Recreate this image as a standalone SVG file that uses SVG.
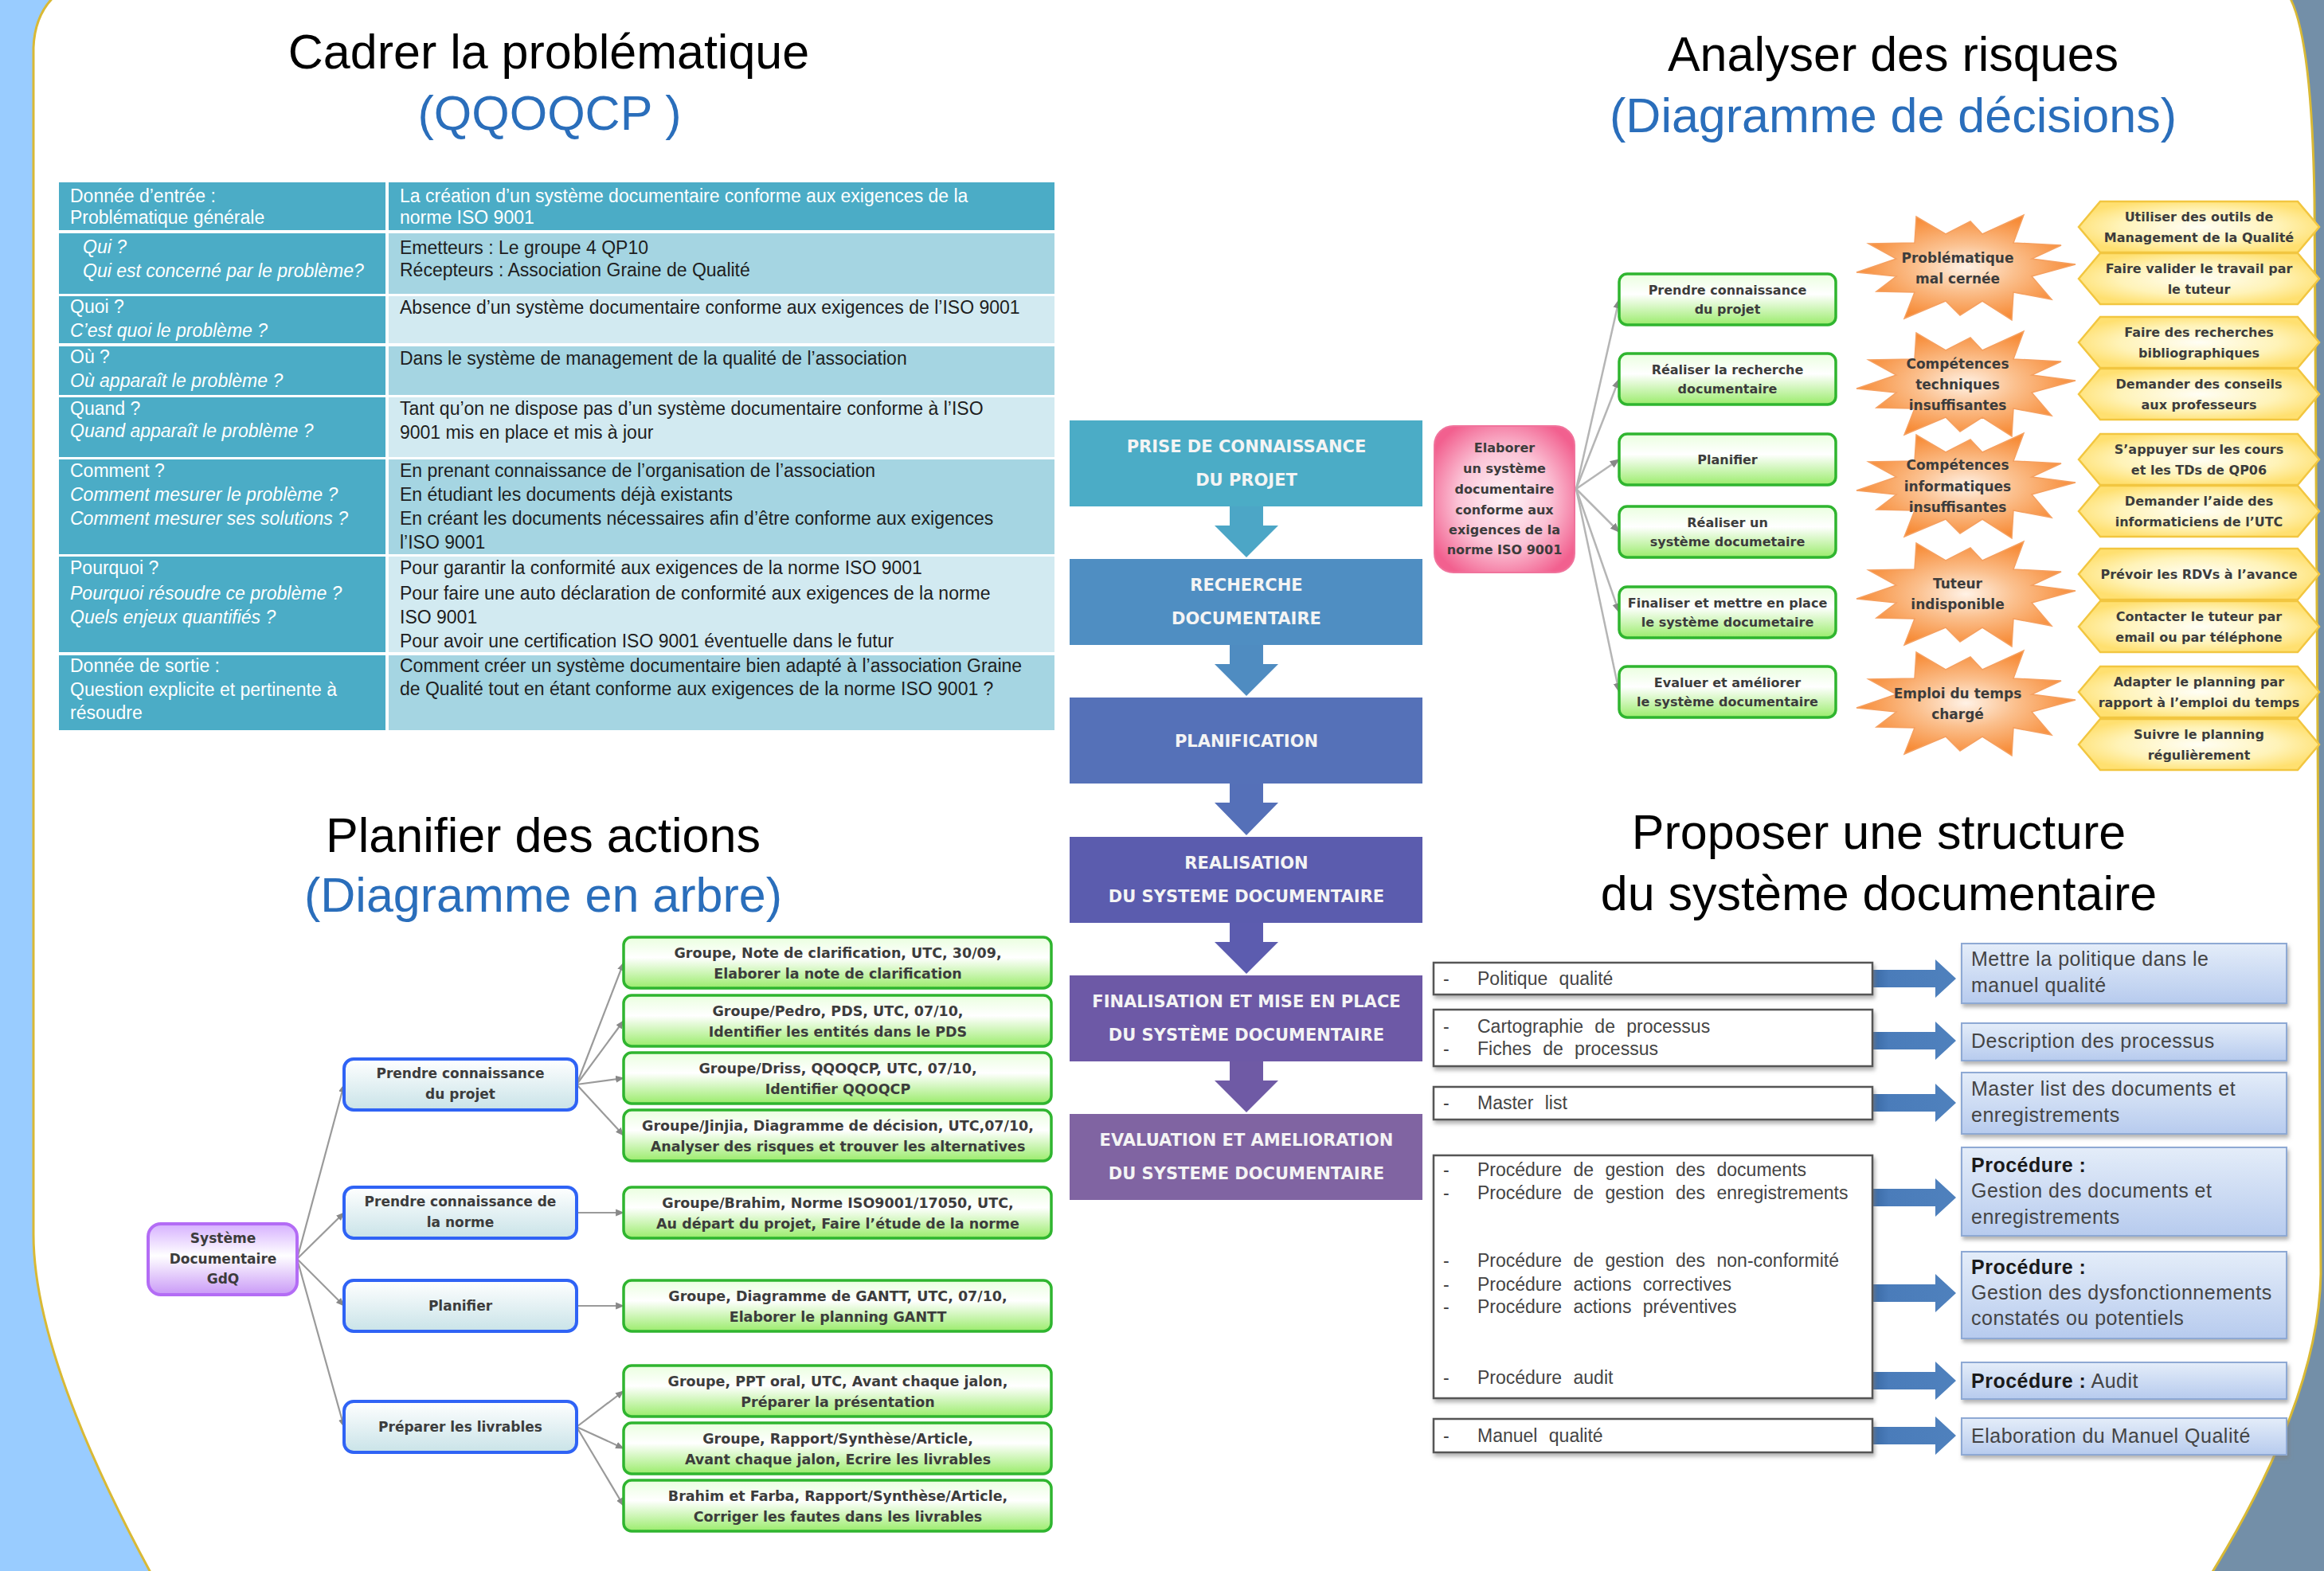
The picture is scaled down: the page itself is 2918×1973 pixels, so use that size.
<svg xmlns="http://www.w3.org/2000/svg" xmlns:xlink="http://www.w3.org/1999/xlink" width="2918" height="1973" viewBox="0 0 2918 1973">
<defs>
<style>
.title{font-family:"Liberation Sans",Arial,sans-serif;font-size:61px;fill:#000;text-anchor:middle}
.sub{font-family:"Liberation Sans",Arial,sans-serif;font-size:61px;fill:#2a6ebb;text-anchor:middle}
.tl{font-family:"Liberation Sans",Arial,sans-serif;font-size:23px;fill:#ffffff}
.tli{font-family:"Liberation Sans",Arial,sans-serif;font-size:23px;fill:#ffffff;font-style:italic}
.tr{font-family:"Liberation Sans",Arial,sans-serif;font-size:23px;fill:#1e1e1e}
.flow{font-family:"DejaVu Sans",sans-serif;font-size:21px;font-weight:bold;fill:#f4f4f4;text-anchor:middle}
.mm{font-family:"DejaVu Sans",sans-serif;font-size:16px;font-weight:bold;fill:#3c3c3c;text-anchor:middle}
.ms{font-family:"DejaVu Sans",sans-serif;font-size:17px;font-weight:bold;fill:#3c3c3c;text-anchor:middle}
.mmb{font-family:"DejaVu Sans",sans-serif;font-size:17.5px;font-weight:bold;fill:#3c3c3c;text-anchor:middle}
.sl{font-family:"Liberation Sans",Arial,sans-serif;font-size:23px;fill:#444;word-spacing:8px}
.sr{font-family:"Liberation Sans",Arial,sans-serif;font-size:25px;fill:#444;letter-spacing:0.5px}
.srb{font-weight:bold;fill:#1a1a1a}
.gbox{fill:url(#gGreen);stroke:#2fb52f;stroke-width:3.5}
.bbox{fill:url(#gBlue);stroke:#2f63f5;stroke-width:4}
.star{fill:url(#gStar);stroke:#f5a060;stroke-width:1.5}
.hex{fill:url(#gHex);stroke:#f2c640;stroke-width:2.5}
.lbox{fill:#fff;stroke:#555;stroke-width:2.5}
.rbox{fill:url(#gStruct);stroke:#8ea9d4;stroke-width:2}
.line{fill:none;stroke:#9a9a9a;stroke-width:2.2;marker-end:url(#tip)}
.line2{fill:none;stroke:#b5b5b5;stroke-width:2.5;marker-end:url(#tip)}
.barrow{fill:url(#gArrow)}
</style>
<linearGradient id="gGreen" x1="0" y1="0" x2="0" y2="1">
<stop offset="0" stop-color="#eaffdf"/><stop offset="0.4" stop-color="#ffffff"/><stop offset="1" stop-color="#9bec6c"/>
</linearGradient>
<linearGradient id="gBlue" x1="0" y1="0" x2="0" y2="1">
<stop offset="0" stop-color="#ffffff"/><stop offset="1" stop-color="#c9e3e8"/>
</linearGradient>
<linearGradient id="gPurple" x1="0" y1="0" x2="0" y2="1">
<stop offset="0" stop-color="#d6b0ff"/><stop offset="0.45" stop-color="#ffffff"/><stop offset="1" stop-color="#c999f7"/>
</linearGradient>
<radialGradient id="gPink" cx="0.5" cy="0.5" r="0.6">
<stop offset="0" stop-color="#fff6f9"/><stop offset="0.55" stop-color="#fbc3d6"/><stop offset="1" stop-color="#f2608f"/>
</radialGradient>
<radialGradient id="gStar" cx="0.5" cy="0.5" r="0.5">
<stop offset="0" stop-color="#fff2e6"/><stop offset="0.45" stop-color="#fbc08e"/><stop offset="1" stop-color="#f78c38"/>
</radialGradient>
<radialGradient id="gHex" cx="0.5" cy="0.5" r="0.55">
<stop offset="0" stop-color="#fffef5"/><stop offset="0.6" stop-color="#fff3b8"/><stop offset="1" stop-color="#ffe070"/>
</radialGradient>
<linearGradient id="gStruct" x1="0" y1="0" x2="0" y2="1">
<stop offset="0" stop-color="#e4edf9"/><stop offset="1" stop-color="#b7cbee"/>
</linearGradient>
<linearGradient id="gArrow" x1="0" y1="0" x2="1" y2="0">
<stop offset="0" stop-color="#2c5a94"/><stop offset="0.3" stop-color="#4a7cba"/><stop offset="1" stop-color="#4f81bd"/>
</linearGradient>
<filter id="shadow" x="-5%" y="-10%" width="110%" height="140%">
<feDropShadow dx="2" dy="4" stdDeviation="2.5" flood-color="#808080" flood-opacity="0.6"/>
</filter>
<marker id="tip" viewBox="0 0 10 10" refX="9" refY="5" markerWidth="5" markerHeight="5" orient="auto">
<path d="M0,1 L10,5 L0,9 Z" fill="#888"/>
</marker>
<path id="star" d="M140,-4 L85,11 L110,40 L62,31 L60,66 L23,42 L-5,60 L-23,42 L-75,64 L-62,31 L-110,30 L-85,11 L-135,6 L-85,-11 L-120,-30 L-62,-31 L-60,-64 L-23,-42 L8,-58 L23,-42 L75,-66 L62,-31 L122,-28 L85,-11 Z"/>
<path id="hex" d="M-151,0 L-124,-32 L124,-32 L151,0 L124,32 L-124,32 Z"/>
</defs>

<!-- background -->
<g id="background">
<rect x="0" y="0" width="1459" height="1973" fill="#99ccff"/>
<rect x="1459" y="0" width="1459" height="1973" fill="#738fa8"/>
<path d="M90,-20 L2860,-20 Q2902,0 2906,250 L2914,1600 C2912,1720 2850,1860 2765,1995 L200,1995 C120,1850 42,1680 42,1550 L42,60 Q44,4 90,-20 Z" fill="#ffffff" stroke="#d9b935" stroke-width="3"/>
</g>

<!-- titles -->
<g id="titles">
<text class="title" x="689" y="86">Cadrer la problématique</text>
<text class="sub" x="690" y="163">(QQOQCP )</text>
<text class="title" x="2377" y="89">Analyser des risques</text>
<text class="sub" x="2377" y="166">(Diagramme de décisions)</text>
<text class="title" x="682" y="1070">Planifier des actions</text>
<text class="sub" x="682" y="1145">(Diagramme en arbre)</text>
<text class="title" x="2359" y="1066">Proposer une structure</text>
<text class="title" x="2359" y="1143">du système documentaire</text>
</g>

<!-- QQOQCP table -->
<g id="table">
<rect x="74" y="229" width="410" height="60" fill="#4bacc6"/>
<rect x="488" y="229" width="836" height="60" fill="#4bacc6"/>
<rect x="74" y="293" width="410" height="76" fill="#4bacc6"/>
<rect x="488" y="293" width="836" height="76" fill="#a5d5e2"/>
<rect x="74" y="372" width="410" height="59" fill="#4bacc6"/>
<rect x="488" y="372" width="836" height="59" fill="#d2eaf1"/>
<rect x="74" y="435" width="410" height="61" fill="#4bacc6"/>
<rect x="488" y="435" width="836" height="61" fill="#a5d5e2"/>
<rect x="74" y="499" width="410" height="75" fill="#4bacc6"/>
<rect x="488" y="499" width="836" height="75" fill="#d2eaf1"/>
<rect x="74" y="577" width="410" height="119" fill="#4bacc6"/>
<rect x="488" y="577" width="836" height="119" fill="#a5d5e2"/>
<rect x="74" y="699" width="410" height="120" fill="#4bacc6"/>
<rect x="488" y="699" width="836" height="120" fill="#d2eaf1"/>
<rect x="74" y="823" width="410" height="94" fill="#4bacc6"/>
<rect x="488" y="823" width="836" height="94" fill="#a5d5e2"/>

<text class="tl" x="88" y="254">Donnée d’entrée :</text>
<text class="tl" x="88" y="281">Problématique générale</text>
<text class="tl" x="502" y="254">La création d’un système documentaire conforme aux exigences de la</text>
<text class="tl" x="502" y="281">norme ISO 9001</text>

<text class="tli" x="104" y="318">Qui ?</text>
<text class="tli" x="104" y="348">Qui est concerné par le problème?</text>
<text class="tr" x="502" y="319">Emetteurs : Le groupe 4 QP10</text>
<text class="tr" x="502" y="347">Récepteurs : Association Graine de Qualité</text>

<text class="tl" x="88" y="393">Quoi ?</text>
<text class="tli" x="88" y="423">C’est quoi le problème ?</text>
<text class="tr" x="502" y="394">Absence d’un système documentaire conforme aux exigences de l’ISO 9001</text>

<text class="tl" x="88" y="456">Où ?</text>
<text class="tli" x="88" y="486">Où apparaît le problème  ?</text>
<text class="tr" x="502" y="458">Dans le système de management de la qualité de l’association</text>

<text class="tl" x="88" y="521">Quand ?</text>
<text class="tli" x="88" y="549">Quand apparaît le problème  ?</text>
<text class="tr" x="502" y="521">Tant qu’on ne dispose pas d’un système documentaire conforme à l’ISO</text>
<text class="tr" x="502" y="551">9001 mis en place et mis à jour</text>

<text class="tl" x="88" y="599">Comment ?</text>
<text class="tli" x="88" y="629">Comment mesurer  le problème ?</text>
<text class="tli" x="88" y="659">Comment  mesurer  ses solutions ?</text>
<text class="tr" x="502" y="599">En prenant connaissance de l’organisation de l’association</text>
<text class="tr" x="502" y="629">En étudiant les documents déjà existants</text>
<text class="tr" x="502" y="659">En créant les documents nécessaires afin d’être conforme  aux exigences</text>
<text class="tr" x="502" y="689">l’ISO 9001</text>

<text class="tl" x="88" y="721">Pourquoi ?</text>
<text class="tli" x="88" y="753">Pourquoi résoudre ce problème  ?</text>
<text class="tli" x="88" y="783">Quels enjeux quantifiés ?</text>
<text class="tr" x="502" y="721">Pour garantir la conformité aux exigences de la norme ISO 9001</text>
<text class="tr" x="502" y="753">Pour faire une auto déclaration de conformité aux exigences de la norme</text>
<text class="tr" x="502" y="783">ISO 9001</text>
<text class="tr" x="502" y="813">Pour avoir une certification  ISO 9001  éventuelle dans le futur</text>

<text class="tl" x="88" y="844">Donnée de sortie :</text>
<text class="tl" x="88" y="874">Question explicite et pertinente à</text>
<text class="tl" x="88" y="903">résoudre</text>
<text class="tr" x="502" y="844">Comment créer un système documentaire bien adapté à l’association Graine</text>
<text class="tr" x="502" y="873">de Qualité tout en étant conforme aux exigences de la norme ISO 9001 ?</text>
</g>

<!-- connectors -->
<g id="connectors">
<path d="M1544,636 L1586,636 L1586,660 L1605,660 L1565,700 L1525,660 L1544,660 Z" fill="#4ca6c6"/>
<path d="M1544,810 L1586,810 L1586,834 L1605,834 L1565,874 L1525,834 L1544,834 Z" fill="#4f8cc1"/>
<path d="M1544,984 L1586,984 L1586,1008 L1605,1008 L1565,1049 L1525,1008 L1544,1008 Z" fill="#5570b8"/>
<path d="M1544,1159 L1586,1159 L1586,1183 L1605,1183 L1565,1223 L1525,1183 L1544,1183 Z" fill="#5c5caf"/>
<path d="M1544,1333 L1586,1333 L1586,1357 L1605,1357 L1565,1397 L1525,1357 L1544,1357 Z" fill="#6f5aa5"/>
<path class="line2" d="M1979,614 L2033,376"/>
<path class="line2" d="M1979,614 L2033,476"/>
<path class="line2" d="M1979,614 L2033,577"/>
<path class="line2" d="M1979,614 L2033,668"/>
<path class="line2" d="M1979,614 L2033,769"/>
<path class="line2" d="M1979,614 L2033,869"/>
<path class="line" d="M373,1581 L432,1362"/>
<path class="line" d="M373,1581 L432,1523"/>
<path class="line" d="M373,1581 L432,1640"/>
<path class="line" d="M373,1581 L432,1792"/>
<path class="line" d="M724,1362 L783,1209"/>
<path class="line" d="M724,1362 L783,1282"/>
<path class="line" d="M724,1362 L783,1354"/>
<path class="line" d="M724,1362 L783,1426"/>
<path class="line" d="M724,1523 L783,1523"/>
<path class="line" d="M724,1640 L783,1640"/>
<path class="line" d="M724,1792 L783,1747"/>
<path class="line" d="M724,1792 L783,1819"/>
<path class="line" d="M724,1792 L783,1891"/>
<path class="barrow" d="M2335,1218 L2430,1218 L2430,1205 L2456,1229 L2430,1253 L2430,1240 L2335,1240 Z"/>
<path class="barrow" d="M2335,1296 L2430,1296 L2430,1283 L2456,1307 L2430,1331 L2430,1318 L2335,1318 Z"/>
<path class="barrow" d="M2335,1374 L2430,1374 L2430,1361 L2456,1385 L2430,1409 L2430,1396 L2335,1396 Z"/>
<path class="barrow" d="M2335,1493 L2430,1493 L2430,1480 L2456,1504 L2430,1528 L2430,1515 L2335,1515 Z"/>
<path class="barrow" d="M2335,1613 L2430,1613 L2430,1600 L2456,1624 L2430,1648 L2430,1635 L2335,1635 Z"/>
<path class="barrow" d="M2335,1723 L2430,1723 L2430,1710 L2456,1734 L2430,1758 L2430,1745 L2335,1745 Z"/>
<path class="barrow" d="M2335,1792 L2430,1792 L2430,1779 L2456,1803 L2430,1827 L2430,1814 L2335,1814 Z"/>
</g>

<!-- central flow -->
<g id="flow-1"><rect x="1343" y="528" width="443" height="108" fill="#4bacc6"/>
<text class="flow" x="1565" y="568">PRISE DE CONNAISSANCE</text><text class="flow" x="1565" y="610">DU PROJET</text></g>
<g id="flow-2"><rect x="1343" y="702" width="443" height="108" fill="#4f8ec2"/>
<text class="flow" x="1565" y="742">RECHERCHE</text><text class="flow" x="1565" y="784">DOCUMENTAIRE</text></g>
<g id="flow-3"><rect x="1343" y="876" width="443" height="108" fill="#5571b8"/>
<text class="flow" x="1565" y="938">PLANIFICATION</text></g>
<g id="flow-4"><rect x="1343" y="1051" width="443" height="108" fill="#5b5cae"/>
<text class="flow" x="1565" y="1091">REALISATION</text><text class="flow" x="1565" y="1133">DU SYSTEME DOCUMENTAIRE</text></g>
<g id="flow-5"><rect x="1343" y="1225" width="443" height="108" fill="#6d59a6"/>
<text class="flow" x="1565" y="1265">FINALISATION ET MISE EN PLACE</text><text class="flow" x="1565" y="1307">DU SYSTÈME DOCUMENTAIRE</text></g>
<g id="flow-6"><rect x="1343" y="1399" width="443" height="108" fill="#8064a2"/>
<text class="flow" x="1565" y="1439">EVALUATION ET AMELIORATION</text><text class="flow" x="1565" y="1481">DU SYSTEME DOCUMENTAIRE</text></g>

<!-- decision diagram -->
<g id="dec-root"><rect x="1801" y="535" width="176" height="184" rx="24" fill="url(#gPink)" stroke="#f0739c" stroke-width="2"/>
<text class="mm" x="1889" y="568">Elaborer</text>
<text class="mm" x="1889" y="594">un système</text>
<text class="mm" x="1889" y="620">documentaire</text>
<text class="mm" x="1889" y="646">conforme aux</text>
<text class="mm" x="1889" y="671">exigences de la</text>
<text class="mm" x="1889" y="696">norme ISO 9001</text></g>

<g id="dec-1"><rect class="gbox" x="2033" y="344" width="272" height="64" rx="10"/>
<text class="mm" x="2169" y="370">Prendre connaissance</text><text class="mm" x="2169" y="394">du projet</text></g>
<g id="dec-2"><rect class="gbox" x="2033" y="444" width="272" height="64" rx="10"/>
<text class="mm" x="2169" y="470">Réaliser la recherche</text><text class="mm" x="2169" y="494">documentaire</text></g>
<g id="dec-3"><rect class="gbox" x="2033" y="545" width="272" height="64" rx="10"/>
<text class="mm" x="2169" y="583">Planifier</text></g>
<g id="dec-4"><rect class="gbox" x="2033" y="636" width="272" height="64" rx="10"/>
<text class="mm" x="2169" y="662">Réaliser un</text><text class="mm" x="2169" y="686">système documetaire</text></g>
<g id="dec-5"><rect class="gbox" x="2033" y="737" width="272" height="64" rx="10"/>
<text class="mm" x="2169" y="763">Finaliser et mettre en place</text><text class="mm" x="2169" y="787">le système documetaire</text></g>
<g id="dec-6"><rect class="gbox" x="2033" y="837" width="272" height="64" rx="10"/>
<text class="mm" x="2169" y="863">Evaluer et améliorer</text><text class="mm" x="2169" y="887">le système documentaire</text></g>

<g id="risk-1"><use href="#star" x="2466" y="336" class="star"/>
<text class="ms" x="2458" y="330">Problématique</text><text class="ms" x="2458" y="356">mal cernée</text></g>
<g id="risk-2"><use href="#star" x="2466" y="482" class="star"/>
<text class="ms" x="2458" y="463">Compétences</text><text class="ms" x="2458" y="489">techniques</text><text class="ms" x="2458" y="515">insuffisantes</text></g>
<g id="risk-3"><use href="#star" x="2466" y="610" class="star"/>
<text class="ms" x="2458" y="590">Compétences</text><text class="ms" x="2458" y="617">informatiques</text><text class="ms" x="2458" y="643">insuffisantes</text></g>
<g id="risk-4"><use href="#star" x="2466" y="746" class="star"/>
<text class="ms" x="2458" y="739">Tuteur</text><text class="ms" x="2458" y="765">indisponible</text></g>
<g id="risk-5"><use href="#star" x="2466" y="883" class="star"/>
<text class="ms" x="2458" y="877">Emploi du temps</text><text class="ms" x="2458" y="903">chargé</text></g>

<g id="alt-1"><use href="#hex" x="2761" y="285" class="hex"/>
<text class="mm" x="2761" y="278">Utiliser des outils de</text><text class="mm" x="2761" y="304">Management de la Qualité</text></g>
<g id="alt-2"><use href="#hex" x="2761" y="350" class="hex"/>
<text class="mm" x="2761" y="343">Faire valider le travail par</text><text class="mm" x="2761" y="369">le tuteur</text></g>
<g id="alt-3"><use href="#hex" x="2761" y="430" class="hex"/>
<text class="mm" x="2761" y="423">Faire des recherches</text><text class="mm" x="2761" y="449">bibliographiques</text></g>
<g id="alt-4"><use href="#hex" x="2761" y="495" class="hex"/>
<text class="mm" x="2761" y="488">Demander des conseils</text><text class="mm" x="2761" y="514">aux professeurs</text></g>
<g id="alt-5"><use href="#hex" x="2761" y="577" class="hex"/>
<text class="mm" x="2761" y="570">S’appuyer sur les cours</text><text class="mm" x="2761" y="596">et les TDs de QP06</text></g>
<g id="alt-6"><use href="#hex" x="2761" y="642" class="hex"/>
<text class="mm" x="2761" y="635">Demander l’aide des</text><text class="mm" x="2761" y="661">informaticiens de l’UTC</text></g>
<g id="alt-7"><use href="#hex" x="2761" y="721" class="hex"/>
<text class="mm" x="2761" y="727">Prévoir les RDVs à l’avance</text></g>
<g id="alt-8"><use href="#hex" x="2761" y="787" class="hex"/>
<text class="mm" x="2761" y="780">Contacter le tuteur par</text><text class="mm" x="2761" y="806">email ou par téléphone</text></g>
<g id="alt-9"><use href="#hex" x="2761" y="869" class="hex"/>
<text class="mm" x="2761" y="862">Adapter le planning par</text><text class="mm" x="2761" y="888">rapport  à l’emploi du temps</text></g>
<g id="alt-10"><use href="#hex" x="2761" y="935" class="hex"/>
<text class="mm" x="2761" y="928">Suivre le planning</text><text class="mm" x="2761" y="954">régulièrement</text></g>

<!-- tree diagram -->
<g id="tree-root"><rect x="186" y="1537" width="187" height="89" rx="16" fill="url(#gPurple)" stroke="#b36cf5" stroke-width="4"/>
<text class="ms" x="280" y="1561">Système</text><text class="ms" x="280" y="1587">Documentaire</text><text class="ms" x="280" y="1612">GdQ</text></g>

<g id="tree-b1"><rect class="bbox" x="432" y="1330" width="292" height="64" rx="12"/>
<text class="ms" x="578" y="1354">Prendre connaissance</text><text class="ms" x="578" y="1380">du projet</text></g>
<g id="tree-b2"><rect class="bbox" x="432" y="1491" width="292" height="64" rx="12"/>
<text class="ms" x="578" y="1515">Prendre connaissance  de</text><text class="ms" x="578" y="1541">la norme</text></g>
<g id="tree-b3"><rect class="bbox" x="432" y="1608" width="292" height="64" rx="12"/>
<text class="ms" x="578" y="1646">Planifier</text></g>
<g id="tree-b4"><rect class="bbox" x="432" y="1760" width="292" height="64" rx="12"/>
<text class="ms" x="578" y="1798">Préparer les livrables</text></g>

<g id="tree-g1"><rect class="gbox" x="783" y="1177" width="537" height="64" rx="10"/>
<text class="mmb" x="1052" y="1203">Groupe, Note de clarification,  UTC, 30/09,</text><text class="mmb" x="1052" y="1229">Elaborer la note de clarification</text></g>
<g id="tree-g2"><rect class="gbox" x="783" y="1250" width="537" height="64" rx="10"/>
<text class="mmb" x="1052" y="1276">Groupe/Pedro, PDS, UTC, 07/10,</text><text class="mmb" x="1052" y="1302">Identifier les entités dans le PDS</text></g>
<g id="tree-g3"><rect class="gbox" x="783" y="1322" width="537" height="64" rx="10"/>
<text class="mmb" x="1052" y="1348">Groupe/Driss, QQOQCP, UTC, 07/10,</text><text class="mmb" x="1052" y="1374">Identifier QQOQCP</text></g>
<g id="tree-g4"><rect class="gbox" x="783" y="1394" width="537" height="64" rx="10"/>
<text class="mmb" x="1052" y="1420">Groupe/Jinjia, Diagramme de décision, UTC,07/10,</text><text class="mmb" x="1052" y="1446">Analyser des risques et trouver les alternatives</text></g>
<g id="tree-g5"><rect class="gbox" x="783" y="1491" width="537" height="64" rx="10"/>
<text class="mmb" x="1052" y="1517">Groupe/Brahim, Norme ISO9001/17050, UTC,</text><text class="mmb" x="1052" y="1543">Au départ du projet, Faire l’étude de la norme</text></g>
<g id="tree-g6"><rect class="gbox" x="783" y="1608" width="537" height="64" rx="10"/>
<text class="mmb" x="1052" y="1634">Groupe, Diagramme de GANTT, UTC, 07/10,</text><text class="mmb" x="1052" y="1660">Elaborer le planning GANTT</text></g>
<g id="tree-g7"><rect class="gbox" x="783" y="1715" width="537" height="64" rx="10"/>
<text class="mmb" x="1052" y="1741">Groupe, PPT oral, UTC, Avant chaque jalon,</text><text class="mmb" x="1052" y="1767">Préparer la présentation</text></g>
<g id="tree-g8"><rect class="gbox" x="783" y="1787" width="537" height="64" rx="10"/>
<text class="mmb" x="1052" y="1813">Groupe, Rapport/Synthèse/Article,</text><text class="mmb" x="1052" y="1839">Avant chaque jalon, Ecrire les livrables</text></g>
<g id="tree-g9"><rect class="gbox" x="783" y="1859" width="537" height="64" rx="10"/>
<text class="mmb" x="1052" y="1885">Brahim et Farba, Rapport/Synthèse/Article,</text><text class="mmb" x="1052" y="1911">Corriger les fautes dans les livrables</text></g>

<!-- structure -->
<g id="doc-1"><rect class="lbox" x="1800" y="1209" width="551" height="40" filter="url(#shadow)"/>
<text class="sl" x="1812" y="1237">-</text><text class="sl" x="1855" y="1237">Politique qualité</text></g>
<g id="doc-2"><rect class="lbox" x="1800" y="1268" width="551" height="71" filter="url(#shadow)"/>
<text class="sl" x="1812" y="1297">-</text><text class="sl" x="1855" y="1297">Cartographie de processus</text>
<text class="sl" x="1812" y="1325">-</text><text class="sl" x="1855" y="1325">Fiches de processus</text></g>
<g id="doc-3"><rect class="lbox" x="1800" y="1365" width="551" height="41" filter="url(#shadow)"/>
<text class="sl" x="1812" y="1393">-</text><text class="sl" x="1855" y="1393">Master list</text></g>
<g id="doc-4"><rect class="lbox" x="1800" y="1451" width="551" height="305" filter="url(#shadow)"/>
<text class="sl" x="1812" y="1477">-</text><text class="sl" x="1855" y="1477">Procédure de gestion des documents</text>
<text class="sl" x="1812" y="1506">-</text><text class="sl" x="1855" y="1506">Procédure de gestion des enregistrements</text>
<text class="sl" x="1812" y="1591">-</text><text class="sl" x="1855" y="1591">Procédure de gestion des non-conformité</text>
<text class="sl" x="1812" y="1621">-</text><text class="sl" x="1855" y="1621">Procédure actions correctives</text>
<text class="sl" x="1812" y="1649">-</text><text class="sl" x="1855" y="1649">Procédure actions préventives</text>
<text class="sl" x="1812" y="1738">-</text><text class="sl" x="1855" y="1738">Procédure audit</text></g>
<g id="doc-5"><rect class="lbox" x="1800" y="1782" width="551" height="42" filter="url(#shadow)"/>
<text class="sl" x="1812" y="1811">-</text><text class="sl" x="1855" y="1811">Manuel qualité</text></g>

<g id="out-1"><rect class="rbox" x="2463" y="1185" width="408" height="75" filter="url(#shadow)"/>
<text class="sr" x="2475" y="1213">Mettre la politique dans le</text><text class="sr" x="2475" y="1246">manuel qualité</text></g>
<g id="out-2"><rect class="rbox" x="2463" y="1285" width="408" height="47" filter="url(#shadow)"/>
<text class="sr" x="2475" y="1316">Description des processus</text></g>
<g id="out-3"><rect class="rbox" x="2463" y="1347" width="408" height="77" filter="url(#shadow)"/>
<text class="sr" x="2475" y="1376">Master list des documents et</text><text class="sr" x="2475" y="1409">enregistrements</text></g>
<g id="out-4"><rect class="rbox" x="2463" y="1441" width="408" height="111" filter="url(#shadow)"/>
<text class="sr srb" x="2475" y="1472">Procédure :</text><text class="sr" x="2475" y="1504">Gestion des documents et</text><text class="sr" x="2475" y="1537">enregistrements</text></g>
<g id="out-5"><rect class="rbox" x="2463" y="1572" width="408" height="109" filter="url(#shadow)"/>
<text class="sr srb" x="2475" y="1600">Procédure :</text><text class="sr" x="2475" y="1632">Gestion des dysfonctionnements</text><text class="sr" x="2475" y="1664">constatés ou potentiels</text></g>
<g id="out-6"><rect class="rbox" x="2463" y="1711" width="408" height="46" filter="url(#shadow)"/>
<text class="sr" x="2475" y="1743"><tspan class="srb">Procédure :</tspan> Audit</text></g>
<g id="out-7"><rect class="rbox" x="2463" y="1781" width="408" height="46" filter="url(#shadow)"/>
<text class="sr" x="2475" y="1812">Elaboration du Manuel Qualité</text></g>
</svg>
